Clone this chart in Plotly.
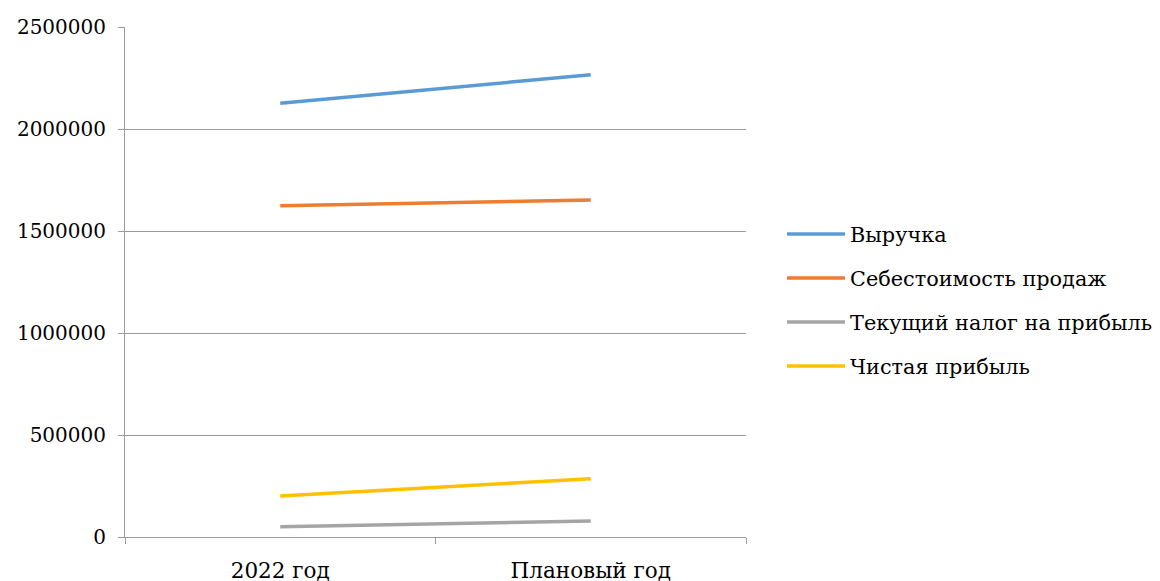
import plotly.graph_objects as go

categories = ["2022 год", "Плановый год"]
series_names = ["Выручка", "Себестоимость продаж", "Текущий налог на прибыль", "Чистая прибыль"]
revenue = [2126000, 2266000]
cost_of_sales = [1624000, 1652000]
income_tax = [50500, 78400]
net_profit = [201000, 286000]
colors = ["#5B9BD5", "#ED7D31", "#A5A5A5", "#FFC000"]
y_ticks = [0, 500000, 1000000, 1500000, 2000000, 2500000]

fig = go.Figure()
for name, vals, col in zip(series_names, [revenue, cost_of_sales, income_tax, net_profit], colors):
    fig.add_trace(go.Scatter(x=categories, y=vals, name=name, mode="lines",
                             line=dict(color=col, width=3.5), legendgroup=name))

FAM = "DejaVu Serif"
yfont = dict(family=FAM, size=20, color="#000000")
tfont = dict(family=FAM, size=21.5, color="#000000")
lfont = dict(family=FAM, size=20.8, color="#000000")
fig.update_layout(
    template="none",
    width=1160, height=581,
    margin=dict(l=117, r=422, t=19, b=52, autoexpand=False),
    paper_bgcolor="white", plot_bgcolor="white",
    font=tfont,
    showlegend=True,
    legend=dict(x=1.058, y=0.464, xanchor="left", yanchor="middle",
                font=lfont, tracegroupgap=14, itemwidth=58, bgcolor="rgba(0,0,0,0)"),
)
fig.update_xaxes(type="category", showline=True, linecolor="#9a9a9a", linewidth=1,
                 ticks="outside", tickson="boundaries", ticklen=6, tickcolor="#9a9a9a",
                 showgrid=False, tickfont=tfont, range=[-0.5, 1.5], automargin=False,
                 ticklabelstandoff=14)
fig.update_yaxes(range=[0, 2500000], tickvals=y_ticks, ticktext=[str(v) for v in y_ticks],
                 showline=True, linecolor="#9a9a9a", linewidth=1,
                 ticks="outside", ticklen=6, tickcolor="#9a9a9a",
                 showgrid=True, gridcolor="#9a9a9a", gridwidth=1, zeroline=False,
                 tickfont=yfont, automargin=False, ticklabelstandoff=8)
fig.write_html("out.html")
